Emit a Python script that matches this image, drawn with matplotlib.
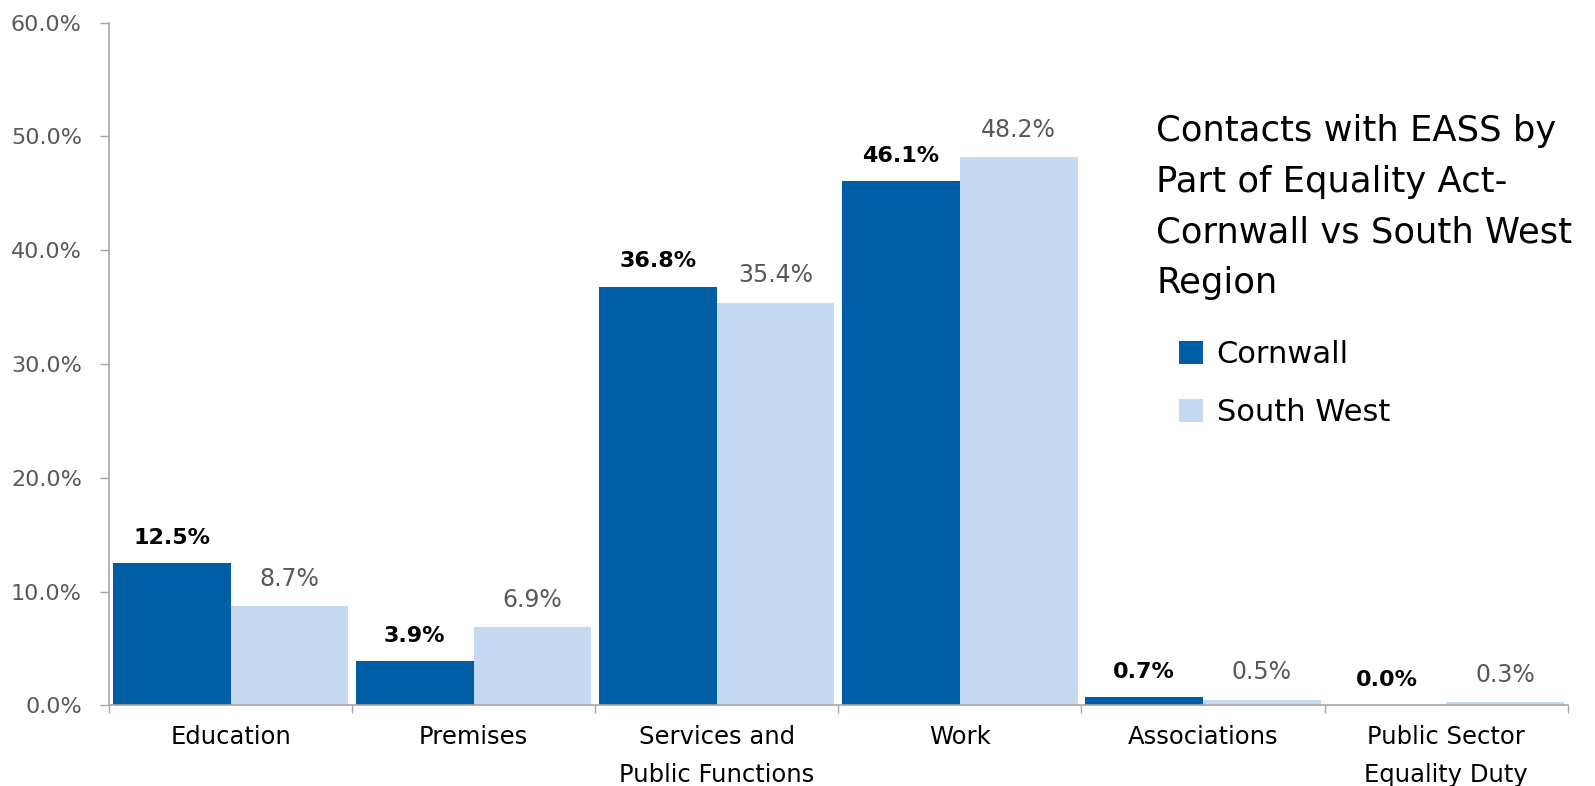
import matplotlib
matplotlib.use("Agg")
import matplotlib.pyplot as plt
import numpy as np

# data
categories = ["Education", "Premises", "Services and\nPublic Functions", "Work",
              "Associations", "Public Sector\nEquality Duty"]
cornwall = [12.5, 3.9, 36.8, 46.1, 0.7, 0.0]
south_west = [8.7, 6.9, 35.4, 48.2, 0.5, 0.3]
series_names = ["Cornwall", "South West"]
title = "Contacts with EASS by\nPart of Equality Act-\nCornwall vs South West\nRegion"

dark_blue = "#005EA5"
light_blue = "#C6D9F1"
grey_text = "#595959"
axis_grey = "#A6A6A6"

plt.rcParams["font.family"] = ["DejaVu Sans"]

fig = plt.figure(figsize=(15.95, 7.86), dpi=100)
ax = fig.add_axes([0.0683, 0.1027, 0.9146, 0.8684])

x = np.arange(len(categories))
w = 0.484
b1 = ax.bar(x - w / 2, cornwall, w, color=dark_blue, label=series_names[0])
b2 = ax.bar(x + w / 2, south_west, w, color=light_blue, label=series_names[1])

ax.bar_label(b1, labels=[f"{v:.1f}%" for v in cornwall], padding=11,
             fontsize=16, fontweight="bold", color="black")
ax.bar_label(b2, labels=[f"{v:.1f}%" for v in south_west], padding=11,
             fontsize=17, color=grey_text)

ax.set_xlim(-0.5, len(categories) - 0.5)
ax.set_ylim(0, 60)
ax.set_yticks(np.arange(0, 61, 10))
ax.set_yticklabels([f"{v:.1f}%" for v in np.arange(0, 61, 10)])
ax.tick_params(axis="y", direction="out", length=6.5, width=1, color=axis_grey,
               labelsize=16, labelcolor=grey_text, pad=13)

ax.set_xticks(x)
ax.set_xticklabels(categories, fontsize=17.5, color="black", linespacing=1.75)
ax.tick_params(axis="x", which="major", length=0, pad=14)
ax.set_xticks(np.arange(-0.5, len(categories)), minor=True)
ax.tick_params(axis="x", which="minor", direction="out", length=6, width=1, color=axis_grey)

for s in ["top", "right"]:
    ax.spines[s].set_visible(False)
for s in ["left", "bottom"]:
    ax.spines[s].set_color(axis_grey)
    ax.spines[s].set_linewidth(1.2)

fig.text(0.725, 0.855, title, fontsize=25.5, color="black", va="top", ha="left",
         linespacing=1.62)

leg = ax.legend(loc="upper left", bbox_to_anchor=(1179 / 1595, 1 - 340 / 786),
                bbox_transform=fig.transFigure, frameon=False, fontsize=22,
                handlelength=0.78, handleheight=0.78, handletextpad=0.45,
                labelspacing=0.95, borderpad=0, borderaxespad=0)
for t in leg.get_texts():
    t.set_color("black")

fig.savefig("out.png", dpi=100)
